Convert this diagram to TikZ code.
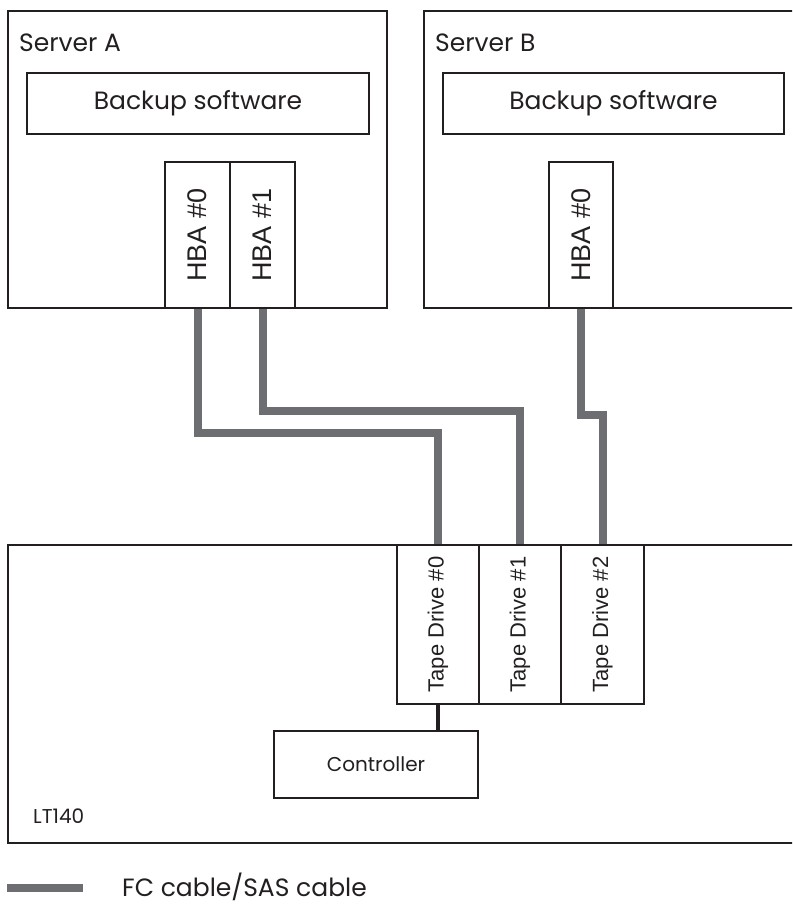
\documentclass[tikz,border=0pt]{standalone}
\usepackage{fontspec}
\setmainfont{Poppins}
\newfontfamily\arialfont{Liberation Sans}
\usetikzlibrary{positioning}
\definecolor{linecol}{HTML}{231F20}
\definecolor{cablecol}{HTML}{6D6E71}

\begin{document}
\begin{tikzpicture}[
    x=1pt, y=-1pt,
    box/.style={draw=linecol, line width=2pt, inner sep=0pt, anchor=north west, text=linecol},
    bigtext/.style={font=\fontsize{25}{30}\selectfont, text=linecol},
    smalltext/.style={font=\fontsize{20}{24}\selectfont, text=linecol},
    hbabox/.style={box, minimum width=65, minimum height=146, font=\arialfont\fontsize{27}{32}\selectfont},
    tapebox/.style={box, minimum width=82, minimum height=159, font=\arialfont\fontsize{22}{26}\selectfont},
    cable/.style={draw=cablecol, line width=8pt},
    link/.style={draw=linecol, line width=4pt}
]
\clip (0,0) rectangle (792,904);

% Servers
\node[box, minimum width=379, minimum height=297] (servera) at (7,10) {};
\node[box, minimum width=380, minimum height=297] (serverb) at (423,10) {};
\node[bigtext, anchor=base west, inner sep=0pt] (serveraname) at (19,52) {Server A};
\node[bigtext, anchor=base west, inner sep=0pt] (serverbname) at (435,52) {Server B};
\node[box, bigtext, minimum width=342, minimum height=61] (softa) at (26,72) {Backup software};
\node[box, bigtext, minimum width=341, minimum height=61] (softb) at (442,72) {Backup software};

% HBAs
\node[hbabox] (hbaa0) at (164,161) {\rotatebox{90}{HBA \#0}};
\node[hbabox] (hbaa1) at (229,161) {\rotatebox{90}{HBA \#1}};
\node[hbabox, minimum width=64] (hbab0) at (548,161) {\rotatebox{90}{HBA \#0}};

% Library
\node[box, minimum width=800, minimum height=298] (library) at (7,544) {};
\node[tapebox] (tape0) at (396,544) {\rotatebox{90}{Tape Drive \#0}};
\node[tapebox] (tape1) at (478,544) {\rotatebox{90}{Tape Drive \#1}};
\node[tapebox, minimum width=83] (tape2) at (560,544) {\rotatebox{90}{Tape Drive \#2}};
\node[box, smalltext, minimum width=204, minimum height=67] (controller) at (273,730) {Controller};
\node[smalltext, anchor=base west, inner sep=0pt] (libname) at (33,823) {LT140};

% Cables
\draw[cable] (hbaa0.south) -- ++(0,124) -| (tape0.north);
\draw[cable] (hbaa1.south) -- ++(0,102) -| (tape1.north);
\draw[cable] (hbab0.south) -- ++(0,106) -| (tape2.north);
\draw[link] (tape0.south) -- (tape0.south |- controller.north);

% Legend
\coordinate (legstart) at (7,888);
\coordinate (legend) at (83,888);
\draw[cable] (legstart) -- (legend);
\node[bigtext, anchor=base west, inner sep=0pt] (legendtext) at (122,896) {FC cable/SAS cable};

\end{tikzpicture}
\end{document}
